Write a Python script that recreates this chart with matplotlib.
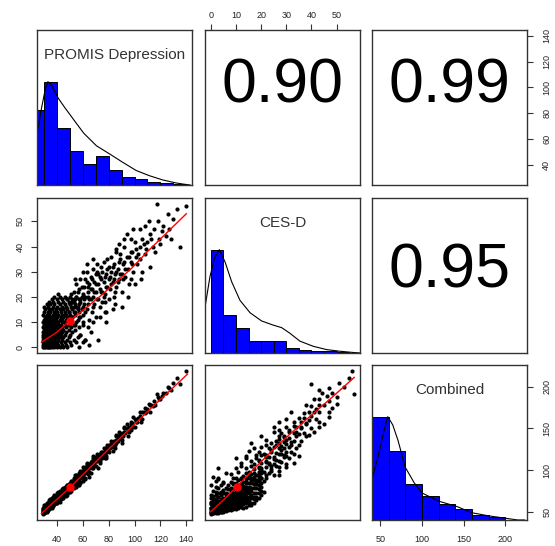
import numpy as np
import matplotlib
matplotlib.use("Agg")
import matplotlib.pyplot as plt

plt.rcParams['font.family'] = ['Liberation Sans', 'DejaVu Sans']

names = ["PROMIS Depression", "CES-D", "Combined"]
cor_labels = ["0.90", "0.99", "0.95"]   # (1,2), (1,3), (2,3)

# one row per respondent
promis = [29, 30, 31, 32, 33, 34, 35, 36, 38, 40, 42, 45, 48,
          29, 30, 31, 32, 33, 34, 35, 36, 37, 39, 41, 44, 47, 51,
          29, 30, 31, 32, 33, 34, 35, 37, 38, 40, 43, 46, 50, 55,
          29, 30, 31, 32, 33, 35, 36, 38, 39, 41, 44, 48, 53, 62,
          29, 30, 31, 33, 34, 35, 37, 38, 40, 42, 45, 49, 56,
          29, 30, 32, 33, 34, 36, 37, 39, 41, 43, 46, 50, 58,
          29, 31, 32, 34, 35, 36, 38, 40, 42, 44, 47, 52,
          30, 31, 33, 34, 36, 37, 39, 41, 43, 45, 49, 54,
          29, 31, 32, 34, 35, 37, 38, 40, 42, 44, 47, 51, 57,
          30, 32, 33, 35, 36, 38, 40, 41, 43, 46, 49, 53,
          29, 31, 33, 34, 36, 38, 39, 41, 44, 46, 50, 55, 60,
          30, 32, 34, 35, 37, 39, 42, 44, 47, 51, 56,
          31, 33, 35, 36, 38, 40, 43, 45, 48, 52, 58,
          29, 32, 34, 37, 39, 41, 44, 47, 50, 54,
          30, 33, 35, 38, 40, 43, 46, 49, 53, 57, 62,
          31, 34, 36, 39, 42, 45, 48, 52, 56,
          30, 33, 37, 40, 44, 47, 51, 55, 60,
          32, 35, 38, 42, 46, 50, 54,
          34, 37, 41, 45, 49, 53, 58,
          36, 40, 44, 48, 52, 57, 61,
          38, 42, 46, 50, 55, 59, 64,
          52, 53, 54, 55, 55, 56, 57, 57, 58, 58, 59, 60, 60, 61, 61,
          62, 63, 63, 64, 64, 65, 65, 66, 66, 67, 67, 68, 68, 69, 69, 70, 70, 70,
          71, 72, 72, 73, 73, 74, 75, 75, 76, 76, 77, 78, 78, 79, 80, 80, 80,
          81, 82, 82, 83, 84, 84, 85, 86, 86, 87, 88, 89, 90, 90,
          91, 92, 93, 94, 95, 96, 97, 98, 99, 100,
          117, 140, 126, 130, 118, 99, 104, 108, 115, 121, 106, 92, 97, 128, 135,
          119, 114, 104, 86, 89, 97, 104, 112, 106, 97, 63, 74, 71, 54, 41,
          85, 77, 83, 77, 72, 62, 58,
          110, 112, 116, 122, 124, 101, 108, 94, 88, 79, 68, 60, 102, 111, 133, 127,
          64, 68, 73, 78, 85, 90, 66, 95, 100, 105, 65, 60, 57,
          46, 47, 48, 49, 50, 51, 52, 53, 54, 54, 56, 57, 59, 60, 61, 62, 63, 64,
          65, 66, 67, 68, 69, 70, 71, 72, 73, 74, 75, 76, 77, 78, 79, 81, 82, 83,
          84, 86, 87, 88, 89, 91, 92, 93, 96, 98, 101, 103, 107, 109, 113, 120]

cesd = [0] * 13 + [1] * 14 + [2] * 14 + [3] * 14 + [4] * 13 + [5] * 13 + [6] * 12 + \
       [7] * 12 + [8] * 13 + [9] * 12 + [10] * 13 + [11] * 11 + [12] * 11 + [13] * 10 + \
       [14] * 11 + [15] * 9 + [16] * 9 + [17] * 7 + [18] * 7 + [19] * 7 + [20] * 7 + \
       [18, 22, 14, 20, 25, 16, 12, 23, 19, 27, 15, 21, 9, 24, 17,
        20, 26, 30, 17, 22, 11, 25, 19, 28, 14, 23, 31, 20, 17, 26, 22, 12, 29,
        33, 19, 25, 28, 16, 22, 30, 18, 26, 34, 21, 29, 14, 24, 32, 19, 27,
        23, 36, 30, 26, 20, 33, 29, 24, 38, 31, 27, 35, 29, 22,
        33, 40, 28, 36, 31, 25, 34, 38, 30, 42,
        57, 56, 53, 51, 50, 47, 47, 48, 47, 46, 43, 43, 43, 43, 40,
        43, 40, 40, 39, 37, 38, 35, 32, 30, 27, 33, 32, 30, 27, 21,
        22, 18, 15, 14, 3, 3, 5,
        42, 45, 38, 48, 44, 36, 37, 45, 41, 35, 35, 30, 33, 50, 55, 47,
        8, 10, 12, 10, 17, 16, 6, 20, 25, 27, 1, 2, 0,
        13, 16, 19, 14, 17, 21, 12, 16, 19, 9, 22, 17, 24, 13, 20, 27, 15, 24,
        19, 23, 27, 16, 22, 25, 19, 29, 23, 27, 22, 20, 28, 24, 31, 28, 25, 32,
        27, 30, 26, 34, 29, 27, 34, 31, 36, 33, 39, 37, 41, 39, 43, 41]

combined = [47, 48, 50, 50, 52, 54, 54, 55, 59, 61, 62, 67, 70,
            48, 49, 50, 52, 52, 54, 56, 56, 57, 60, 63, 66, 69, 75,
            48, 50, 51, 51, 53, 55, 55, 58, 60, 62, 65, 70, 74, 80,
            49, 50, 52, 52, 54, 56, 58, 60, 61, 63, 68, 72, 78, 89,
            50, 50, 52, 54, 55, 57, 60, 61, 63, 65, 70, 74, 82,
            50, 52, 53, 55, 57, 58, 60, 63, 65, 67, 72, 76, 85,
            51, 53, 54, 56, 58, 60, 62, 64, 66, 70, 73, 79,
            52, 54, 57, 57, 60, 62, 63, 66, 68, 71, 77, 82,
            52, 54, 56, 58, 59, 61, 63, 66, 68, 70, 75, 79, 86,
            53, 56, 58, 60, 61, 63, 66, 68, 70, 73, 77, 83,
            53, 56, 58, 59, 62, 64, 66, 68, 71, 74, 80, 85, 91,
            55, 57, 60, 61, 64, 66, 69, 72, 76, 81, 88,
            56, 59, 62, 63, 65, 68, 71, 74, 78, 83, 91,
            55, 59, 61, 64, 67, 70, 73, 77, 81, 86,
            56, 60, 63, 66, 69, 73, 76, 80, 85, 90, 96,
            58, 62, 65, 68, 72, 76, 80, 85, 90,
            58, 61, 66, 70, 75, 79, 84, 89, 95,
            61, 65, 68, 73, 78, 83, 88,
            64, 68, 73, 78, 83, 88, 94,
            67, 72, 77, 82, 87, 93, 98,
            70, 75, 80, 85, 91, 96, 103,
            86, 90, 87, 91, 94, 90, 89, 96, 95, 99, 93, 98, 91, 101, 97,
            100, 105, 107, 101, 104, 98, 107, 104, 110, 103, 108, 114, 108, 107, 112, 111, 105, 116,
            119, 112, 116, 119, 111, 116, 122, 115, 121, 126, 119, 126, 117, 124, 130, 122, 127,
            126, 135, 131, 130, 128, 135, 134, 133, 141, 138, 137, 143, 141, 136,
            144, 150, 144, 150, 148, 146, 152, 156, 152, 161,
            191, 219, 200, 204, 188, 163, 169, 174, 183, 189, 169, 151, 158, 196, 203,
            185, 177, 165, 142, 144, 155, 162, 170, 161, 148, 109, 122, 117, 94, 74,
            130, 118, 123, 115, 102, 90, 86,
            173, 178, 178, 192, 192, 158, 168, 155, 145, 130, 117, 104, 158, 179, 210, 198,
            95, 102, 109, 114, 127, 133, 97, 141, 151, 158, 92, 87, 82,
            76, 79, 82, 80, 83, 87, 83, 86, 90, 84, 94, 92, 99, 93, 99, 104, 98, 105,
            103, 107, 111, 105, 110, 113, 111, 118, 116, 119, 118, 118, 124, 122, 128, 129, 128, 134,
            132, 136, 135, 141, 139, 141, 146, 145, 152, 153, 160, 162, 169, 170, 178, 185]

means = [50, 10.6, 79.7]

# histograms on the diagonal
promis_breaks = [20, 30, 40, 50, 60, 70, 80, 90, 100, 110, 120, 130, 140]
promis_counts = [126, 174, 96, 58, 36, 48, 26, 14, 10, 5, 3, 1]
cesd_breaks = [0, 5, 10, 15, 20, 25, 30, 35, 40, 45, 50, 55]
cesd_counts = [300, 111, 74, 36, 35, 35, 15, 9, 7, 5, 2]
combined_breaks = [40, 60, 80, 100, 120, 140, 160, 180, 200, 220]
combined_counts = [265, 178, 92, 61, 41, 28, 13, 8, 1]

# density curves (relative height)
promis_dens_x = [24.6, 28, 31, 33, 36, 41, 46, 51.3, 56, 60.8, 70.5, 80.8, 90.8, 101.3, 111.5, 121.5, 132, 137, 143]
promis_dens_y = [0.50, 0.74, 0.93, 1.0, 0.96, 0.84, 0.75, 0.66, 0.58, 0.50, 0.38, 0.30, 0.22, 0.14, 0.09, 0.05, 0.02, 0.01, 0.0]
cesd_dens_x = [-2.3, -0.3, 1.5, 3.4, 5.7, 8.3, 11.6, 15.6, 20.2, 24.8, 28.2, 31.5, 35.4, 40.7, 46, 51.3, 56.6, 59.5]
cesd_dens_y = [0.44, 0.74, 0.92, 1.0, 0.88, 0.69, 0.51, 0.39, 0.31, 0.27, 0.245, 0.19, 0.115, 0.065, 0.033, 0.017, 0.005, 0.0]
combined_dens_x = [40.7, 50, 55, 59, 65, 71.3, 80, 90.7, 100.3, 121, 142, 160, 180, 201, 215, 223]
combined_dens_y = [0.41, 0.70, 0.88, 1.0, 0.92, 0.77, 0.51, 0.36, 0.26, 0.18, 0.13, 0.07, 0.04, 0.016, 0.0, 0.0]

# loess lines in the scatter panels
loess_pc_x = [28, 40, 50, 62, 74, 86, 98, 110, 125, 140]
loess_pc_y = [2, 6, 10.6, 15.5, 20.5, 26, 31.5, 38, 45.5, 53]
loess_pb_x = [28, 50, 80, 110, 141]
loess_pb_y = [48, 79, 125, 170, 215]
loess_cb_x = [0, 5, 10.3, 18, 27, 37, 47, 57]
loess_cb_y = [50, 64, 80, 104, 131, 158, 184, 211]

data = [promis, cesd, combined]
hists = [(promis_breaks, promis_counts), (cesd_breaks, cesd_counts), (combined_breaks, combined_counts)]
dens = [(promis_dens_x, promis_dens_y), (cesd_dens_x, cesd_dens_y), (combined_dens_x, combined_dens_y)]
loess = {(1, 0): (loess_pc_x, loess_pc_y), (2, 0): (loess_pb_x, loess_pb_y), (2, 1): (loess_cb_x, loess_cb_y)}
cor_pos = {(0, 1): 0, (0, 2): 1, (1, 2): 2}
cor_y = {(0, 1): 0.64, (0, 2): 0.64, (1, 2): 0.53}


def rlim(v):
    lo, hi = min(v), max(v)
    r = hi - lo
    return lo - 0.04 * r, hi + 0.04 * r


lims = [rlim(v) for v in data]

W, H = 555, 546
lefts = [37, 205, 372]
tops = [30, 198, 365]
size = 155
fig = plt.figure(figsize=(W / 100, H / 100), dpi=100)

tick_kw = dict(direction='out', length=4, width=0.8, colors='#333333', labelsize=6.5, labelcolor='#222222')
axes = [[None] * 3 for _ in range(3)]
for i in range(3):
    for j in range(3):
        ax = fig.add_axes([lefts[j] / W, 1 - (tops[i] + size) / H, size / W, size / H])
        axes[i][j] = ax
        for s in ax.spines.values():
            s.set_color('#333333')
            s.set_linewidth(1)
        ax.set_xticks([])
        ax.set_yticks([])
        ax.set_xlim(lims[j])
        if i == j:
            br, ct = hists[i]
            mx = max(ct)
            ax.bar(br[:-1], [c / mx for c in ct], width=np.diff(br), align='edge',
                   color='#0000FF', edgecolor='black', linewidth=0.7)
            ax.plot(dens[i][0], dens[i][1], color='black', lw=0.8)
            ax.set_ylim(0, 1.5)
            ax.text(0.5, 0.84, names[i], transform=ax.transAxes, ha='center', va='center',
                    fontsize=11, color='#333333')
        elif i > j:
            ax.set_ylim(lims[i])
            ax.scatter(data[j], data[i], s=9, c='black', linewidths=0)
            lx, ly = loess[(i, j)]
            ax.plot(lx, ly, color='red', lw=1)
            ax.plot(means[j], means[i], 'o', color='red', ms=5)
        else:
            ax.set_ylim(lims[i])
            ax.text(0.5, cor_y[(i, j)], cor_labels[cor_pos[(i, j)]], transform=ax.transAxes,
                    ha='center', va='center', fontsize=45)

# outer axes like R pairs(): alternating sides
ax = axes[2][0]
ax.set_xticks([40, 60, 80, 100, 120, 140])
ax.tick_params(axis='x', pad=7, **tick_kw)

ax = axes[0][1]
ax.xaxis.tick_top()
ax.set_xticks([0, 10, 20, 30, 40, 50])
ax.tick_params(axis='x', pad=3, **tick_kw)

ax = axes[2][2]
ax.set_xticks([50, 100, 150, 200])
ax.tick_params(axis='x', pad=7, **tick_kw)

ax = axes[1][0]
ax.set_yticks([0, 10, 20, 30, 40, 50])
ax.tick_params(axis='y', pad=5, **tick_kw)
for t in ax.get_yticklabels():
    t.set_rotation(90)
    t.set_va('center')

ax = axes[0][2]
ax.yaxis.tick_right()
ax.set_yticks([40, 60, 80, 100, 120, 140])
ax.tick_params(axis='y', pad=7, **tick_kw)
for t in ax.get_yticklabels():
    t.set_rotation(90)
    t.set_va('center')

tw = axes[2][2].twinx()
tw.set_ylim(lims[2])
tw.set_yticks([50, 100, 150, 200])
tw.tick_params(axis='y', pad=7, **tick_kw)
for s in tw.spines.values():
    s.set_visible(False)
for t in tw.get_yticklabels():
    t.set_rotation(90)
    t.set_va('center')

fig.savefig("out.png", dpi=100)
